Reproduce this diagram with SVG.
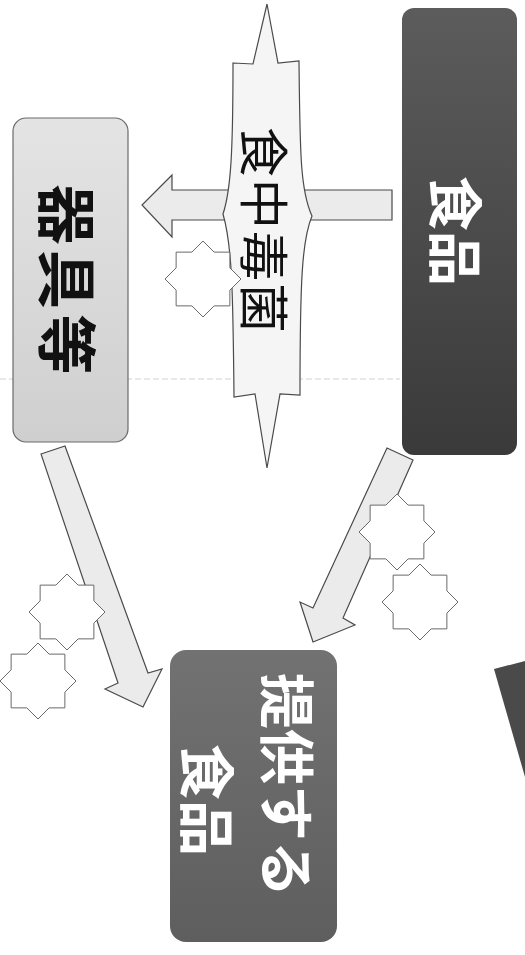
<svg xmlns="http://www.w3.org/2000/svg" xmlns:xlink="http://www.w3.org/1999/xlink" width="525" height="955" viewBox="0 0 525 955">
<style>
.arrow{fill:#ebebeb;stroke:#4a4a4a;stroke-width:1.2;stroke-linejoin:miter}
.star{fill:#ffffff;stroke:#6a6a6a;stroke-width:1}
.jp{font-family:"Noto Sans CJK JP","Noto Sans CJK SC",sans-serif;text-anchor:middle;dominant-baseline:central}
.w{fill:#ffffff;font-weight:bold}
.b{fill:#111111;font-weight:bold}
</style>
<defs>
<linearGradient id="gDark" x1="0" y1="0" x2="0" y2="1">
<stop offset="0" stop-color="#5c5c5c"/>
<stop offset="1" stop-color="#3a3a3a"/>
</linearGradient>
<linearGradient id="gMid" x1="0" y1="0" x2="0" y2="1">
<stop offset="0" stop-color="#727272"/>
<stop offset="1" stop-color="#5e5e5e"/>
</linearGradient>
<linearGradient id="gLight" x1="0" y1="0" x2="0" y2="1">
<stop offset="0" stop-color="#e4e4e4"/>
<stop offset="1" stop-color="#cfcfcf"/>
</linearGradient>
<polygon id="star" class="star" points="0,-38 11.14,-26.88 26.87,-26.87 26.88,-11.14 38,0 26.88,11.14 26.87,26.87 11.14,26.88 0,38 -11.14,26.88 -26.87,26.87 -26.88,11.14 -38,0 -26.88,-11.14 -26.87,-26.87 -11.14,-26.88"/>
</defs>
<rect width="525" height="955" fill="#ffffff"/>
<line x1="0" y1="379" x2="400" y2="379" stroke="#d2d2d2" stroke-width="1" stroke-dasharray="6 3"/>

<g id="connectors">
<polygon id="arrow-shokuhin-kigu" class="arrow" points="392,190 392,220 172,220 172,237 142,205 172,175 172,190"/>
<polygon id="arrow-shokuhin-teikyo" class="arrow" points="387,448 413,460 343,618 355,625 313,642 300,602 313,608"/>
<polygon id="arrow-kigu-teikyo" class="arrow" points="41,454 65,446 148,673 162,669 143,707 105,689 118,683"/>
</g>

<g id="node-shokuhin">
<rect x="402" y="8" width="115" height="447" rx="12" ry="12" fill="url(#gDark)"/>
<text class="jp w" font-size="55" transform="translate(459,231) rotate(90)">食品</text>
</g>

<g id="node-kigu">
<rect x="13" y="118" width="115" height="324" rx="13" ry="13" fill="url(#gLight)" stroke="#6a6a6a" stroke-width="1.2"/>
<text class="jp b" font-size="60" letter-spacing="5" transform="translate(70,282) rotate(90)">器具等</text>
</g>

<g id="node-bacteria">
<path d="M233,63 L253,64 L267,4 L278,63 L299,61 C300,150 300,190 312,216 C302,240 300,280 300,395 L280,394 L267,468 L255,394 L234,397 C233,290 232,245 223,214 C231,190 233,150 233,63 Z" fill="#f5f5f5" stroke="#4a4a4a" stroke-width="1.2"/>
<text class="jp" fill="#111111" font-size="50" letter-spacing="2" transform="translate(267,231) rotate(90)">食中毒菌</text>
</g>

<g id="stars">
<use xlink:href="#star" x="203" y="279"/>
<use xlink:href="#star" x="67" y="612"/>
<use xlink:href="#star" x="38" y="681"/>
<use xlink:href="#star" x="397" y="532"/>
<use xlink:href="#star" x="420" y="602"/>
</g>

<g id="node-teikyo">
<rect x="170" y="650" width="167" height="292" rx="16" ry="16" fill="url(#gMid)"/>
<text class="jp w" font-size="56" transform="translate(290,785) rotate(90)">提供する</text>
<text class="jp w" font-size="56" transform="translate(210,800) rotate(90)">食品</text>
</g>

<g id="node-partial">
<polygon points="494,669 525,661 525,777" fill="#4a4a4a"/>
</g>
</svg>
